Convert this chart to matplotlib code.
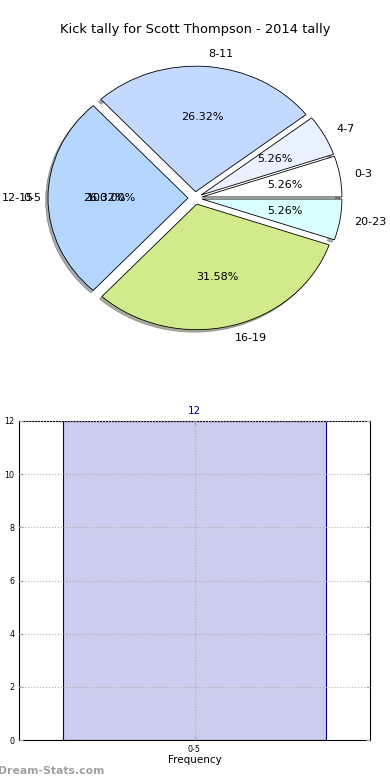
import matplotlib
matplotlib.use("Agg")
import matplotlib.pyplot as plt

# Data
pie_labels = ["0-3", "4-7", "8-11", "12-15", "16-19", "20-23"]
pie_values = [1, 1, 5, 5, 6, 1]
pie_colors = ["#ffffff", "#eaf2ff", "#c4d9ff", "#b5d6ff", "#d0ea8c", "#d9ffff"]

bar_labels = ["0-5"]
bar_values = [12]

title = "Kick tally for Scott Thompson - 2014 tally"

fig = plt.figure(figsize=(3.9, 7.8), dpi=100)

# Pie axes
ax1 = fig.add_axes([20/390, 1 - 355/780, 350/390, 314/780])
# underlying single-wedge pie from bar data
ax1.pie(bar_values, labels=bar_labels, colors=["white"], autopct="%1.2f%%",
        startangle=0, wedgeprops=dict(linewidth=0),
        textprops=dict(fontsize=8), labeldistance=1.1)
ax1.pie(pie_values, labels=pie_labels, colors=pie_colors, autopct="%1.2f%%",
        explode=[0.05]*len(pie_values),
        shadow=dict(ox=-0.012, oy=-0.014, shade=0.6), startangle=0,
        wedgeprops=dict(linewidth=0.6, edgecolor="black"),
        textprops=dict(fontsize=8), labeldistance=1.1)
ax1.set_aspect("auto")
ax1.set_xlim(-1.25, 1.25)
ax1.set_ylim(-1.25, 1.25)
fig.text(0.5, 1 - 30/780, title, ha="center", va="center", fontsize=9.4)

# Bar axes
ax2 = fig.add_axes([19/390, 1 - 740/780, 351/390, 319/780])
x = list(range(len(bar_labels)))
bars = ax2.bar(x, bar_values, width=0.75, color="#ccccee", edgecolor="#000080",
               linewidth=0.8, zorder=2)
for xi, v in zip(x, bar_values):
    ax2.text(xi, v + 0.2, str(v), ha="center", va="bottom", color="#000080", fontsize=7.5)
ax2.set_xlim(-0.5, 0.5)
ax2.set_ylim(0, 12)
ax2.set_xticks(x)
ax2.set_xticklabels(bar_labels, fontsize=5.8)
ax2.set_yticks([0, 2, 4, 6, 8, 10, 12])
ax2.tick_params(axis="y", labelsize=5.8, right=True, direction="in", length=3, color="#aaaaaa")
ax2.tick_params(axis="x", direction="in", length=3, color="#aaaaaa", top=True)
ax2.grid(True, linestyle=":", color="#b0b0b0", linewidth=0.8, zorder=3)
ax2.set_axisbelow(False)
ax2.set_xlabel("Frequency", fontsize=7.5, labelpad=1)
ax2.set_ylabel("Stat Kick Tally", fontsize=7, labelpad=6)
for s in ax2.spines.values():
    s.set_linewidth(0.8)

fig.text(-2/390, 1 - 771/780, "Dream-Stats.com", ha="left", va="center",
         fontsize=7.8, color="#a0a0a0", fontweight="bold")

fig.savefig("out.png", dpi=100)
